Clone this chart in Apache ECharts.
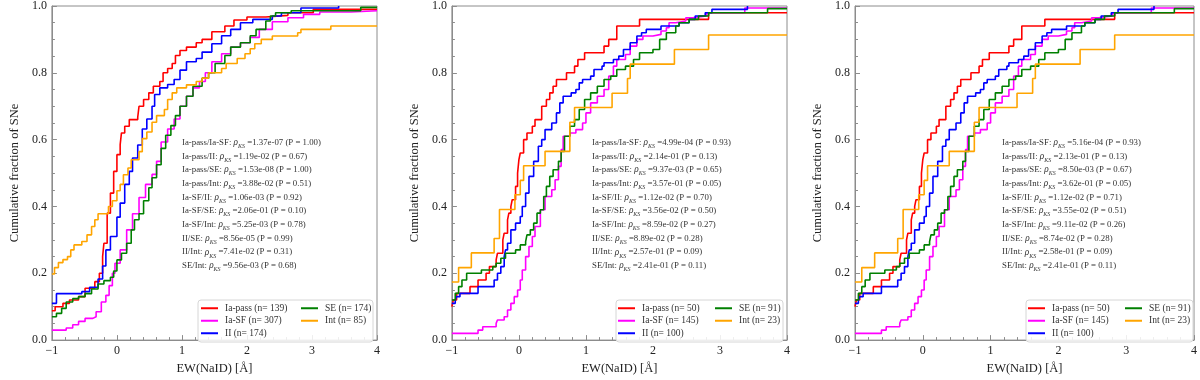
<!DOCTYPE html>
<html>
<head>
<meta charset="utf-8">
<script src="https://cdn.jsdelivr.net/npm/echarts@6/dist/echarts.min.js"></script>
<style>
html,body{margin:0;padding:0;background:#fff;}
.p{position:absolute;top:0;width:400px;height:380px;}
</style>
</head>
<body>
<div id="p1" class="p" style="left:0"></div>
<div id="p2" class="p" style="left:400px"></div>
<div id="p3" class="p" style="left:800px"></div>
<script>
// ---------- data ----------
const groupNames = ['Ia-pass', 'Ia-SF', 'II', 'SE', 'Int'];
const groupColors = ['#ff0000', '#ff00ff', '#0000ff', '#008000', '#ffa500'];

const countsLeft = [139, 307, 174, 174, 85];
const countsMid = [50, 145, 100, 91, 23];
const countsRight = [50, 145, 100, 91, 23];

// Panel 1 curves: [EW, cumulative fraction] at each step
const p1IaPass = [[-1,0.088],[-0.95,0.10],[-0.83,0.11],[-0.73,0.12],[-0.59,0.13],[-0.49,0.155],[-0.34,0.175],[-0.27,0.20],[-0.22,0.25],[-0.20,0.29],[-0.15,0.38],[-0.10,0.44],[-0.05,0.505],[0.0,0.555],[0.05,0.585],[0.07,0.62],[0.12,0.64],[0.19,0.66],[0.32,0.667],[0.34,0.70],[0.41,0.72],[0.49,0.74],[0.56,0.76],[0.66,0.774],[0.71,0.80],[0.78,0.813],[0.85,0.828],[0.90,0.852],[0.97,0.867],[1.07,0.877],[1.22,0.89],[1.31,0.90],[1.46,0.923],[1.66,0.94],[1.80,0.958],[2.0,0.967],[2.29,0.972],[2.63,0.98],[3.02,0.99],[4,0.99]];
const p1IaSF = [[-1,0.03],[-0.78,0.036],[-0.68,0.046],[-0.59,0.056],[-0.49,0.065],[-0.37,0.07],[-0.32,0.085],[-0.24,0.114],[-0.17,0.134],[-0.12,0.163],[-0.07,0.20],[-0.03,0.23],[0.05,0.27],[0.15,0.33],[0.24,0.378],[0.34,0.427],[0.44,0.466],[0.54,0.496],[0.61,0.535],[0.68,0.593],[0.78,0.632],[0.88,0.662],[0.97,0.70],[1.07,0.73],[1.17,0.755],[1.27,0.774],[1.36,0.80],[1.46,0.833],[1.61,0.857],[1.75,0.877],[1.90,0.89],[2.05,0.906],[2.19,0.93],[2.39,0.953],[2.63,0.965],[2.87,0.975],[3.12,0.982],[3.6,0.986],[4,0.986]];
const p1II = [[-1,0.11],[-0.93,0.139],[-0.54,0.145],[-0.42,0.158],[-0.29,0.183],[-0.22,0.222],[-0.17,0.27],[-0.10,0.31],[0.0,0.368],[0.05,0.41],[0.12,0.466],[0.19,0.505],[0.24,0.545],[0.32,0.584],[0.39,0.632],[0.46,0.662],[0.54,0.70],[0.58,0.735],[0.66,0.755],[0.78,0.765],[0.88,0.78],[0.97,0.808],[1.07,0.833],[1.22,0.843],[1.31,0.862],[1.46,0.887],[1.61,0.911],[1.75,0.93],[1.90,0.95],[2.09,0.96],[2.39,0.97],[2.53,0.98],[2.83,0.994],[3.41,1.0]];
const p1SE = [[-1,0.07],[-0.93,0.08],[-0.85,0.095],[-0.78,0.114],[-0.68,0.124],[-0.59,0.13],[-0.49,0.139],[-0.39,0.153],[-0.29,0.168],[-0.20,0.178],[-0.10,0.188],[-0.05,0.207],[0.0,0.24],[0.07,0.26],[0.15,0.29],[0.22,0.33],[0.27,0.36],[0.34,0.378],[0.41,0.417],[0.49,0.456],[0.54,0.486],[0.61,0.525],[0.68,0.574],[0.75,0.613],[0.83,0.642],[0.90,0.672],[0.97,0.70],[1.07,0.73],[1.17,0.76],[1.31,0.784],[1.41,0.80],[1.51,0.828],[1.66,0.852],[1.75,0.877],[1.90,0.89],[2.05,0.911],[2.14,0.93],[2.29,0.955],[2.36,0.97],[2.44,0.98],[2.68,0.986],[3.75,0.996],[4,0.996]];
const p1Int = [[-1,0.198],[-0.96,0.217],[-0.90,0.232],[-0.83,0.241],[-0.76,0.25],[-0.71,0.27],[-0.66,0.285],[-0.54,0.295],[-0.46,0.315],[-0.39,0.34],[-0.34,0.36],[-0.29,0.378],[-0.13,0.40],[-0.07,0.417],[0.0,0.447],[0.05,0.466],[0.10,0.495],[0.17,0.515],[0.22,0.54],[0.34,0.564],[0.39,0.603],[0.46,0.623],[0.54,0.652],[0.61,0.672],[0.73,0.69],[0.78,0.72],[0.85,0.74],[0.92,0.755],[1.07,0.764],[1.22,0.774],[1.31,0.784],[1.41,0.80],[1.61,0.813],[1.68,0.828],[1.85,0.843],[1.97,0.857],[2.05,0.872],[2.12,0.887],[2.22,0.90],[2.39,0.91],[2.78,0.92],[2.83,0.93],[3.29,0.94],[4,0.94]];

// Panel 2 / 3 curves (the two panels show the same samples)
const p2IaPass = [[-1,0.10],[-0.98,0.12],[-0.93,0.14],[-0.73,0.16],[-0.61,0.18],[-0.49,0.20],[-0.44,0.22],[-0.34,0.24],[-0.32,0.26],[-0.24,0.30],[-0.22,0.32],[-0.17,0.36],[-0.15,0.38],[-0.12,0.40],[-0.10,0.42],[-0.05,0.46],[-0.02,0.50],[0.0,0.54],[0.02,0.56],[0.07,0.60],[0.12,0.62],[0.20,0.64],[0.24,0.66],[0.34,0.70],[0.41,0.72],[0.46,0.74],[0.51,0.76],[0.56,0.78],[0.71,0.80],[0.83,0.82],[0.88,0.84],[0.98,0.86],[1.27,0.88],[1.34,0.90],[1.46,0.94],[1.80,0.96],[2.83,0.98],[4,0.98]];
const p2IaSF = [[-1,0.02],[-0.61,0.03],[-0.54,0.04],[-0.34,0.05],[-0.32,0.06],[-0.22,0.07],[-0.17,0.09],[-0.12,0.11],[-0.07,0.13],[-0.02,0.15],[0.02,0.18],[0.05,0.21],[0.10,0.25],[0.15,0.28],[0.20,0.31],[0.24,0.34],[0.32,0.39],[0.39,0.43],[0.49,0.45],[0.54,0.48],[0.59,0.52],[0.63,0.57],[0.66,0.61],[0.76,0.62],[0.85,0.63],[0.95,0.65],[1.0,0.68],[1.07,0.71],[1.17,0.73],[1.27,0.75],[1.34,0.79],[1.41,0.82],[1.46,0.84],[1.59,0.855],[1.66,0.88],[1.76,0.90],[1.85,0.91],[2.0,0.915],[2.12,0.925],[2.20,0.935],[2.24,0.95],[2.34,0.955],[2.49,0.965],[2.59,0.97],[2.80,0.98],[3.37,0.994],[4,0.994]];
const p2II = [[-1,0.11],[-0.95,0.12],[-0.93,0.13],[-0.88,0.14],[-0.61,0.16],[-0.37,0.18],[-0.32,0.20],[-0.27,0.22],[-0.22,0.25],[-0.20,0.27],[-0.17,0.29],[-0.12,0.33],[-0.05,0.35],[0.02,0.37],[0.05,0.40],[0.10,0.44],[0.15,0.49],[0.22,0.535],[0.29,0.58],[0.34,0.60],[0.39,0.63],[0.49,0.65],[0.56,0.68],[0.61,0.71],[0.66,0.73],[0.78,0.74],[0.85,0.75],[0.90,0.77],[0.95,0.78],[1.07,0.79],[1.12,0.81],[1.24,0.82],[1.27,0.83],[1.41,0.84],[1.49,0.85],[1.56,0.87],[1.66,0.89],[1.76,0.91],[1.83,0.92],[1.90,0.93],[2.12,0.94],[2.39,0.95],[2.54,0.96],[2.63,0.97],[2.78,0.98],[2.88,0.99],[3.41,1.0]];
const p2SE = [[-1,0.12],[-0.95,0.14],[-0.90,0.16],[-0.85,0.18],[-0.78,0.20],[-0.56,0.21],[-0.39,0.22],[-0.34,0.23],[-0.27,0.245],[-0.20,0.26],[-0.05,0.27],[0.02,0.285],[0.10,0.295],[0.12,0.315],[0.17,0.33],[0.22,0.35],[0.27,0.38],[0.32,0.39],[0.37,0.43],[0.41,0.46],[0.46,0.49],[0.51,0.51],[0.59,0.535],[0.63,0.565],[0.68,0.61],[0.76,0.64],[0.83,0.66],[0.90,0.69],[0.98,0.72],[1.07,0.74],[1.17,0.76],[1.27,0.78],[1.37,0.79],[1.46,0.81],[1.59,0.82],[1.71,0.84],[1.80,0.86],[2.0,0.87],[2.10,0.90],[2.20,0.92],[2.34,0.94],[2.39,0.95],[2.54,0.96],[2.68,0.97],[2.83,0.98],[3.71,0.992],[4,0.992]];
const p2Int = [[-1,0.174],[-0.90,0.217],[-0.71,0.261],[-0.37,0.304],[-0.29,0.391],[-0.06,0.435],[0.02,0.478],[0.07,0.522],[0.39,0.565],[0.76,0.652],[0.83,0.696],[1.39,0.739],[1.62,0.783],[1.66,0.826],[2.32,0.87],[2.83,0.913],[4,0.913]];

// KS-test annotations
const ksPairs = ['Ia-pass/Ia-SF', 'Ia-pass/II', 'Ia-pass/SE', 'Ia-pass/Int', 'Ia-SF/II', 'Ia-SF/SE', 'Ia-SF/Int', 'II/SE', 'II/Int', 'SE/Int'];
const ksLeft = ['1.37e-07', '1.19e-02', '1.53e-08', '3.88e-02', '1.06e-03', '2.06e-01', '5.25e-03', '8.56e-05', '7.41e-02', '9.56e-03'];
const pLeft = ['1.00', '0.67', '1.00', '0.51', '0.92', '0.10', '0.78', '0.99', '0.31', '0.68'];
const ksMid = ['4.99e-04', '2.14e-01', '9.37e-03', '3.57e-01', '1.12e-02', '3.56e-02', '8.59e-02', '8.89e-02', '2.57e-01', '2.41e-01'];
const pMid = ['0.93', '0.13', '0.65', '0.05', '0.70', '0.50', '0.27', '0.28', '0.09', '0.11'];
const ksRight = ['5.16e-04', '2.13e-01', '8.50e-03', '3.62e-01', '1.12e-02', '3.55e-02', '9.11e-02', '8.74e-02', '2.58e-01', '2.41e-01'];
const pRight = ['0.93', '0.13', '0.67', '0.05', '0.71', '0.51', '0.26', '0.28', '0.09', '0.11'];

const xAxisTitle = 'EW(NaID) [Å]';
const yAxisTitle = 'Cumulative fraction of SNe';

// ---------- rendering ----------
const FONT = '"Liberation Serif", "DejaVu Serif", serif';
const FRAME = '#8c8c8c';

function buildPanel(el, cfg) {
  const chart = echarts.init(el, null, { renderer: 'canvas' });
  const names = groupNames.map((g, i) => g + ' (n= ' + cfg.counts[i] + ')');
  const series = cfg.curves.map((d, i) => ({
    type: 'line', name: names[i], data: d, step: 'end',
    symbol: 'none', showSymbol: false, clip: true,
    lineStyle: { color: groupColors[i], width: 1.6 },
    itemStyle: { color: groupColors[i] },
    z: 3 + i
  }));
  const lines = ksPairs.map((p, i) =>
    '{t|' + p + ': }{r|ρ}{s|KS}{t| =' + cfg.ks[i] + ' }{t|(P = ' + cfg.pv[i] + ')}'
  ).join('\n');
  const legendCommon = {
    orient: 'vertical', top: 302, padding: 0, itemGap: 0,
    itemWidth: 17, itemHeight: 2, icon: 'rect', selectedMode: false,
    textStyle: { fontFamily: FONT, fontSize: 9.5, lineHeight: 12.5, color: '#333', padding: [0, 0, 0, 2] }
  };
  chart.setOption({
    animation: false,
    backgroundColor: '#fff',
    grid: { left: cfg.left, right: cfg.right, top: 5, bottom: 34, show: true, borderColor: FRAME, borderWidth: 1 },
    xAxis: {
      type: 'value', min: -1, max: 4, interval: 1,
      name: xAxisTitle, nameLocation: 'middle', nameGap: 19,
      nameTextStyle: { fontFamily: FONT, fontSize: 12.5, color: '#222' },
      axisLine: { show: true, onZero: false, lineStyle: { color: FRAME, width: 1 } },
      axisTick: { show: true, inside: true, length: 5, lineStyle: { color: FRAME } },
      minorTick: { show: true, splitNumber: 5, length: 3, lineStyle: { color: FRAME } },
      splitLine: { show: false },
      axisLabel: { fontFamily: FONT, fontSize: 12, color: '#222', margin: 5,
        formatter: v => (v < 0 ? '\u2212' + Math.abs(v) : String(v)) }
    },
    yAxis: {
      type: 'value', min: 0, max: 1, interval: 0.2,
      name: yAxisTitle, nameLocation: 'middle', nameGap: 23,
      nameTextStyle: { fontFamily: FONT, fontSize: 12.5, color: '#222' },
      axisLine: { show: true, onZero: false, lineStyle: { color: FRAME, width: 1 } },
      axisTick: { show: true, inside: true, length: 5, lineStyle: { color: FRAME } },
      minorTick: { show: true, splitNumber: 4, length: 3, lineStyle: { color: FRAME } },
      splitLine: { show: false },
      axisLabel: { fontFamily: FONT, fontSize: 12, color: '#222', margin: 5,
        formatter: v => v.toFixed(1) }
    },
    legend: [
      Object.assign({ left: cfg.leg1, data: names.slice(0, 3) }, legendCommon),
      Object.assign({ left: cfg.leg2, data: names.slice(3) }, legendCommon)
    ],
    graphic: [
      { type: 'rect', z: 1, shape: { x: cfg.boxX, y: 300, width: cfg.boxW, height: 42, r: 3 },
        style: { fill: 'rgba(255,255,255,0.85)', stroke: '#d6d6d6', lineWidth: 1 } },
      { type: 'text', z: 10, left: cfg.textX, top: 138,
        style: {
          text: lines, fill: '#333',
          rich: {
            t: { fontFamily: FONT, fontSize: 8.8, fill: '#333', lineHeight: 13.7 },
            r: { fontFamily: FONT, fontSize: 9.3, fontStyle: 'italic', fill: '#333', lineHeight: 13.7 },
            s: { fontFamily: FONT, fontSize: 6, fontStyle: 'italic', fill: '#333', lineHeight: 8, verticalAlign: 'bottom' }
          }
        } }
    ],
    series: series
  });
  return chart;
}

buildPanel(document.getElementById('p1'), {
  counts: countsLeft, curves: [p1IaPass, p1IaSF, p1II, p1SE, p1Int], ks: ksLeft, pv: pLeft,
  left: 35, right: 23, leg1: 201, leg2: 301, boxX: 198, boxW: 175, textX: 182
});
buildPanel(document.getElementById('p2'), {
  counts: countsMid, curves: [p2IaPass, p2IaSF, p2II, p2SE, p2Int], ks: ksMid, pv: pMid,
  left: 45, right: 13, leg1: 218, leg2: 315, boxX: 216, boxW: 167, textX: 192
});
buildPanel(document.getElementById('p3'), {
  counts: countsRight, curves: [p2IaPass, p2IaSF, p2II, p2SE, p2Int], ks: ksRight, pv: pRight,
  left: 55, right: 3, leg1: 228, leg2: 325, boxX: 226, boxW: 167, textX: 202
});
</script>
</body>
</html>
